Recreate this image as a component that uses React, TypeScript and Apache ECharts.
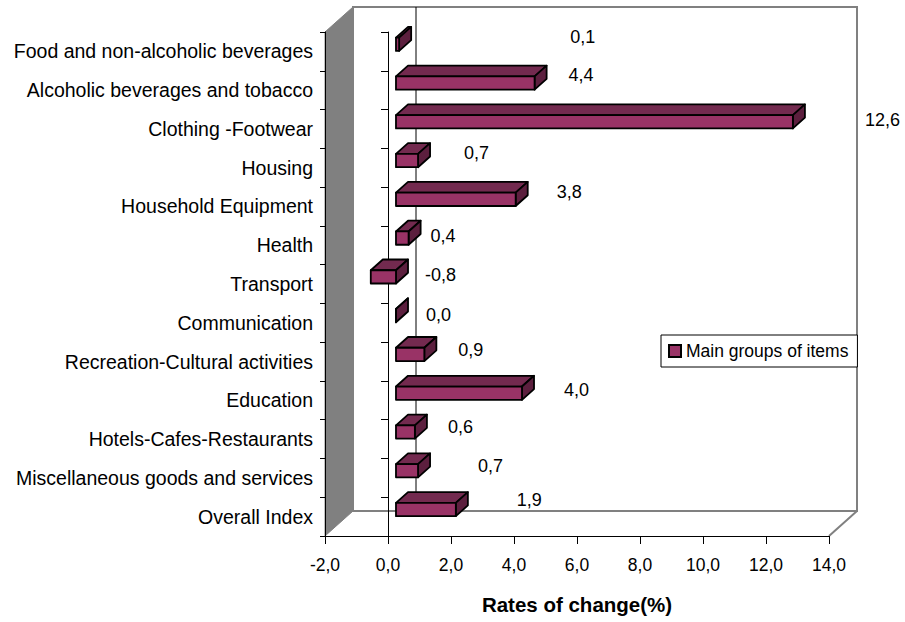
import React, { useEffect, useRef } from "react";
import * as echarts from "echarts";

// Consumer price index: annual rates of change by main group of items
const categories = [
  "Food and non-alcoholic beverages",
  "Alcoholic beverages and tobacco",
  "Clothing -Footwear",
  "Housing",
  "Household Equipment",
  "Health",
  "Transport",
  "Communication",
  "Recreation-Cultural activities",
  "Education",
  "Hotels-Cafes-Restaurants",
  "Miscellaneous goods and services",
  "Overall Index",
];
const rates = [0.1, 4.4, 12.6, 0.7, 3.8, 0.4, -0.8, 0.0, 0.9, 4.0, 0.6, 0.7, 1.9];

const axisMin = -2;
const axisMax = 14;
const axisStep = 2;

const seriesName = "Main groups of items";
const axisTitle = "Rates of change(%)";

// Hand-placed data labels: [dx, dy] in px from the bar's value end (category centre)
const labelOffsets: [number, number][] = [
  [179, -14], [42, -15], [80, -9], [54, -15], [49, -14], [30, -9], [37, -9],
  [38, -8], [42, -12], [50, -10], [41, -12], [68, -12], [69, -17],
];

// Pseudo-3D depth of the plot box (back wall is shifted by this many px)
const DEPTH_X = 28;
const DEPTH_Y = -25;
const BAR_FRONT = 0.285; // bar front face position inside the depth
const BAR_DEPTH = 0.43; // bar thickness along the depth
const BAR_HEIGHT = 0.343; // share of the category band

const FONT = "'Liberation Sans', Arial, sans-serif";
const fmt = (v: number) => v.toFixed(1).replace(".", ",");

export default function App() {
  const ref = useRef<HTMLDivElement>(null);

  useEffect(() => {
    if (!ref.current) return;
    const chart = echarts.init(ref.current, undefined, { renderer: "svg" });

    const option: any = {
      animation: false,
      backgroundColor: "#fff",
      textStyle: { fontFamily: FONT, color: "#000" },
      grid: { left: 325, top: 32, width: 504, height: 504, containLabel: false },
      legend: {
        data: [{ name: seriesName, icon: "rect" }],
        left: 661,
        top: 335,
        padding: [7, 9, 7, 7],
        backgroundColor: "#fff",
        borderColor: "#000",
        borderWidth: 1,
        borderRadius: 0,
        itemWidth: 12,
        itemHeight: 12,
        itemStyle: { color: "#993366", borderColor: "#000", borderWidth: 2 },
        textStyle: { fontFamily: FONT, fontSize: 17.5, color: "#000" },
        selectedMode: false,
      },
      xAxis: {
        type: "value",
        min: axisMin,
        max: axisMax,
        interval: axisStep,
        position: "bottom",
        name: axisTitle,
        nameLocation: "middle",
        nameGap: 58,
        nameTextStyle: { fontFamily: FONT, fontSize: 20.5, fontWeight: "bold", color: "#000" },
        axisLine: { show: true, lineStyle: { color: "#000", width: 1 } },
        axisTick: { show: true, length: 8, lineStyle: { color: "#000" } },
        axisLabel: {
          fontFamily: FONT,
          fontSize: 17.5,
          color: "#000",
          margin: 20,
          formatter: (v: number) => fmt(v),
        },
        splitLine: { show: false },
      },
      yAxis: [
        {
          type: "category",
          data: categories,
          inverse: true,
          position: "left",
          axisLine: { show: true, onZero: false, lineStyle: { color: "#000", width: 1 } },
          axisTick: { show: true, length: 5, lineStyle: { color: "#000" } },
          axisLabel: { fontFamily: FONT, fontSize: 19.5, color: "#000", margin: 12 },
          splitLine: { show: false },
        },
        {
          type: "category",
          data: categories,
          inverse: true,
          position: "left",
          axisLine: { show: true, onZero: true, lineStyle: { color: "#000", width: 1 } },
          axisTick: { show: true, length: 7, lineStyle: { color: "#000" } },
          axisLabel: { show: false },
          splitLine: { show: false },
        },
      ],
      series: [
        {
          // walls and floor of the 3D box
          type: "custom",
          name: "frame",
          z: -1,
          silent: true,
          data: [[0, 0]],
          encode: { x: 0, y: 1 },
          renderItem: (params: any, api: any) => {
            const cs = params.coordSys;
            const x0 = cs.x;
            const y0 = cs.y;
            const x1 = cs.x + cs.width;
            const y1 = cs.y + cs.height;
            const zeroX = api.coord([0, 0])[0];
            const grey = "#808080";
            return {
              type: "group",
              children: [
                {
                  type: "polygon",
                  shape: {
                    points: [
                      [x0, y0],
                      [x0 + DEPTH_X, y0 + DEPTH_Y],
                      [x0 + DEPTH_X, y1 + DEPTH_Y],
                      [x0, y1],
                    ],
                  },
                  style: { fill: grey, stroke: grey, lineWidth: 1 },
                },
                {
                  type: "rect",
                  shape: { x: x0 + DEPTH_X, y: y0 + DEPTH_Y, width: cs.width, height: cs.height },
                  style: { fill: "none", stroke: grey, lineWidth: 2 },
                },
                {
                  type: "line",
                  shape: { x1: x1 + DEPTH_X, y1: y1 + DEPTH_Y, x2: x1, y2: y1 },
                  style: { stroke: grey, lineWidth: 2 },
                },
                {
                  type: "line",
                  shape: { x1: zeroX + DEPTH_X, y1: y0 + DEPTH_Y, x2: zeroX + DEPTH_X, y2: y1 + DEPTH_Y },
                  style: { stroke: "#000", lineWidth: 1 },
                },
              ],
            };
          },
        },
        {
          type: "custom",
          name: seriesName,
          yAxisIndex: 0,
          itemStyle: { color: "#993366" },
          data: rates.map((v, i) => [v, i]),
          encode: { x: 0, y: 1 },
          renderItem: (params: any, api: any) => {
            const v = api.value(0) as number;
            const i = api.value(1) as number;
            const lo = api.coord([Math.min(v, 0), i]);
            const hi = api.coord([Math.max(v, 0), i]);
            const band = api.size([0, 1])[1];
            const h = band * BAR_HEIGHT;
            const fx = DEPTH_X * BAR_FRONT;
            const fy = DEPTH_Y * BAR_FRONT;
            const dx = DEPTH_X * BAR_DEPTH;
            const dy = DEPTH_Y * BAR_DEPTH;
            const xa = lo[0] + fx;
            const xb = hi[0] + fx;
            const yT = lo[1] + fy - h / 2;
            const yB = yT + h;
            const edge = { stroke: "#000", lineWidth: 1.8, lineJoin: "round" };
            const [ox, oy] = labelOffsets[params.dataIndex] || [30, -10];
            return {
              type: "group",
              children: [
                {
                  type: "polygon",
                  shape: { points: [[xa, yT], [xa + dx, yT + dy], [xb + dx, yT + dy], [xb, yT]] },
                  style: { fill: "#732a4f", ...edge },
                },
                {
                  type: "polygon",
                  shape: { points: [[xb, yT], [xb + dx, yT + dy], [xb + dx, yB + dy], [xb, yB]] },
                  style: { fill: "#5c1f3e", ...edge },
                },
                {
                  type: "polygon",
                  shape: { points: [[xa, yT], [xb, yT], [xb, yB], [xa, yB]] },
                  style: { fill: "#993366", ...edge },
                },
                {
                  type: "text",
                  x: hi[0] + ox,
                  y: hi[1] + oy,
                  style: {
                    text: fmt(v),
                    fontFamily: FONT,
                    fontSize: 18,
                    fill: "#000",
                    align: "left",
                    verticalAlign: "middle",
                  },
                },
              ],
            };
          },
        },
      ],
    };

    chart.setOption(option);
    return () => chart.dispose();
  }, []);

  return (
    <div
      ref={ref}
      style={{ position: "absolute", left: 0, top: 0, width: 905, height: 622, background: "#fff" }}
    />
  );
}
